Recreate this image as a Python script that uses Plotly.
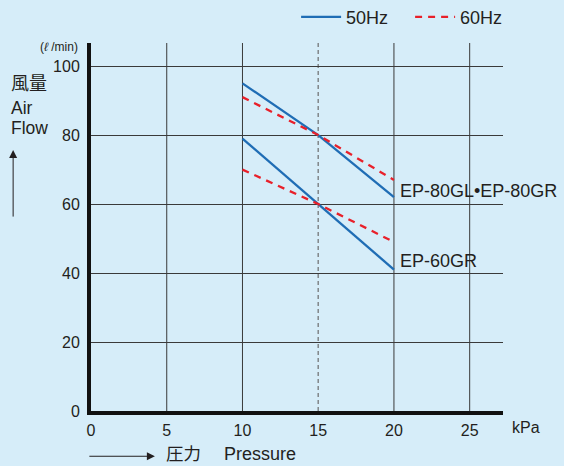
import plotly.graph_objects as go

pressure = [10, 15, 20]
ep80_50 = [95, 80, 62]
ep80_60 = [91, 80, 67]
ep60_50 = [79, 60, 41]
ep60_60 = [70, 60, 49]
x_ticks = [0, 5, 10, 15, 20, 25]
y_ticks = [0, 20, 40, 60, 80, 100]

BLUE = "#1f6db5"
RED = "#e8202a"
BG = "#d6edf9"
TXT = "#231f20"
FONT = "Liberation Sans, Arial, sans-serif"
CJK = "Noto Sans CJK JP"
DASH = "7px,6px"

fig = go.Figure()
fig.add_trace(go.Scatter(x=pressure, y=ep80_50, mode="lines", line=dict(color=BLUE, width=2.3), name="50Hz", legendrank=1))
fig.add_trace(go.Scatter(x=pressure, y=ep80_60, mode="lines", line=dict(color=RED, width=2.3, dash=DASH), name="60Hz", legendrank=2))
fig.add_trace(go.Scatter(x=pressure, y=ep60_50, mode="lines", line=dict(color=BLUE, width=2.3), showlegend=False))
fig.add_trace(go.Scatter(x=pressure, y=ep60_60, mode="lines", line=dict(color=RED, width=2.3, dash=DASH), showlegend=False))

shapes = []
for xv in x_ticks[1:]:
    shapes.append(dict(type="line", xref="x", yref="paper", x0=xv, x1=xv, y0=0, y1=1,
                       line=dict(color="#80868a" if xv == 15 else "#3a3a3a", width=1.5 if xv == 15 else 1,
                                 dash="4px,3px" if xv == 15 else "solid"), layer="below"))

def txt(x, y, text, size, family=FONT, xanchor="left", **kw):
    return dict(xref="paper", yref="paper", x=x, y=y, text=text, showarrow=False,
                xanchor=xanchor, yanchor="middle", font=dict(size=size, color=TXT, family=family), **kw)

annotations = [
    dict(xref="x", yref="y", x=pressure[-1], y=63.8, text="EP-80GL•EP-80GR", xanchor="left", yanchor="middle",
         xshift=4, showarrow=False, font=dict(size=18, color=TXT, family=FONT)),
    dict(xref="x", yref="y", x=pressure[-1], y=43.5, text="EP-60GR", xanchor="left", yanchor="middle",
         xshift=4, showarrow=False, font=dict(size=18, color=TXT, family=FONT)),
    txt(1.017, -0.046, "kPa", 16),
    txt(-0.027, 0.989, "(<i>ℓ</i> /min)", 12, xanchor="right"),
    txt(-0.199, 0.894, "風量", 18, family=CJK),
    txt(-0.199, 0.823, "Air", 17.5),
    txt(-0.199, 0.770, "Flow", 17.5),
    txt(0.178, -0.113, "圧力", 17.5, family=CJK),
    txt(0.318, -0.117, "Pressure", 18),
    # up arrow
    dict(xref="paper", yref="paper", x=-0.189, y=0.709, ax=0, ay=68, axref="pixel", ayref="pixel",
         showarrow=True, arrowhead=2, arrowsize=1.6, arrowwidth=1, arrowcolor=TXT, text=""),
    # right arrow
    dict(xref="paper", yref="paper", x=0.155, y=-0.123, ax=-67, ay=0, axref="pixel", ayref="pixel",
         showarrow=True, arrowhead=2, arrowsize=1.6, arrowwidth=1, arrowcolor=TXT, text=""),
]

fig.update_layout(
    width=564, height=466,
    margin=dict(l=91, r=61, t=43, b=55, autoexpand=False),
    paper_bgcolor=BG, plot_bgcolor=BG,
    font=dict(family=FONT, color=TXT, size=14),
    showlegend=True,
    legend=dict(orientation="h", xref="container", yref="container", x=0.525, y=0.963,
                xanchor="left", yanchor="middle",
                bgcolor="rgba(0,0,0,0)", font=dict(size=18, color=TXT), itemwidth=40,
                entrywidth=59),
    shapes=shapes,
    annotations=annotations,
)
fig.update_xaxes(range=[0, 27.2], tickvals=x_ticks, showgrid=False, zeroline=False, automargin=False,
                 showline=True, linecolor="#111111", linewidth=4, ticks="", ticklabelstandoff=2,
                 tickfont=dict(size=16, color=TXT))
fig.update_yaxes(range=[0, 106.7], tickvals=y_ticks, showgrid=True, gridcolor="#3a3a3a", gridwidth=1,
                 zeroline=False, showline=True, linecolor="#111111", linewidth=4, ticks="", automargin=False,
                 ticklabelstandoff=4, tickfont=dict(size=16, color=TXT))

fig.write_html("out.html", config={"displayModeBar": False},
               post_script="document.body.style.margin='0';")
